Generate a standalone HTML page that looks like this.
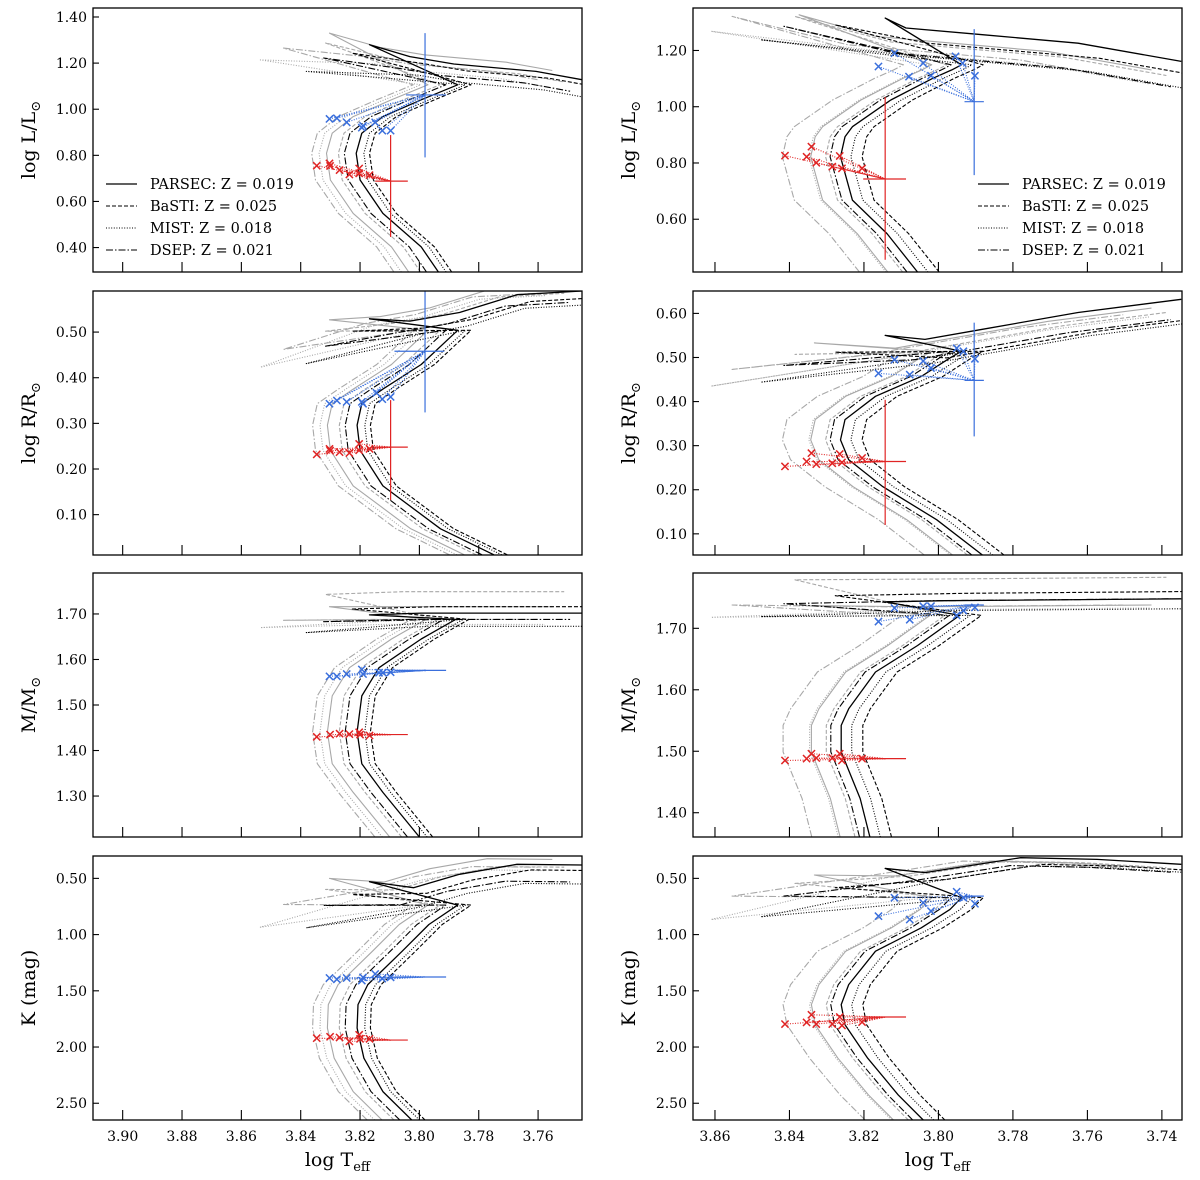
<!DOCTYPE html>
<html><head><meta charset="utf-8">
<style>
html,body{margin:0;padding:0;background:#fff;}
svg{display:block;font-family:"DejaVu Serif","Liberation Serif",serif;}
</style></head>
<body>
<svg id="fig" width="1200" height="1180" viewBox="0 0 1200 1180" xmlns="http://www.w3.org/2000/svg"></svg>
<script>
// ---------- data ----------
const modelNames = ["PARSEC: Z = 0.019","BaSTI: Z = 0.025","MIST: Z = 0.018","DSEP: Z = 0.021"];
const TICKS_X_LEFT = [3.90,3.88,3.86,3.84,3.82,3.80,3.78,3.76];
const TICKS_X_RIGHT = [3.86,3.84,3.82,3.80,3.78,3.76,3.74];
const TICKS_L_LEFT = [0.40,0.60,0.80,1.00,1.20,1.40];
const TICKS_L_RIGHT = [0.60,0.80,1.00,1.20];
const TICKS_R_LEFT = [0.10,0.20,0.30,0.40,0.50];
const TICKS_R_RIGHT = [0.10,0.20,0.30,0.40,0.50,0.60];
const TICKS_M_LEFT = [1.30,1.40,1.50,1.60,1.70];
const TICKS_M_RIGHT = [1.40,1.50,1.60,1.70];
const TICKS_K = [0.50,1.00,1.50,2.00,2.50];

// model order: black P,B,M,D ; gray P,B,M,D
// ---- panel 1 left (log L) ----
const p1L_base = [[3.7936,0.294],[3.7994,0.403],[3.8123,0.548],[3.8200,0.693],[3.8213,0.809],[3.8194,0.896],[3.8123,0.968],[3.7994,1.041],[3.7871,1.106],[3.8168,1.280],[3.8032,1.228],[3.7884,1.196],[3.7607,1.164],[3.7452,1.128]];
const p1L_dT = [0,-0.0045,-0.0026,0.004,0.010,0.006,0.0125,0.015];
const p1L_tipT = [3.8168,3.8226,3.8381,3.8323,3.8303,3.8316,3.8536,3.8458];
const p1L_tipY = [1.280,1.243,1.164,1.222,1.330,1.287,1.214,1.265];
const p1L_sgY = [0,-0.03,-0.08,-0.05,0.04,-0.01,-0.03,0];
const p1L_blueObs = [3.7981,1.062]; const p1L_blueXErr=[3.8045,3.7910]; const p1L_blueYErr=[1.330,0.791];
const p1L_blueX = [[3.8303,0.958],[3.8278,0.961],[3.8245,0.943],[3.8194,0.920],[3.8190,0.928],[3.8149,0.943],[3.8125,0.907],[3.8097,0.907]];
const p1L_redObs = [3.8097,0.688]; const p1L_redXErr=[3.8149,3.8039]; const p1L_redYErr=[0.888,0.446];
const p1L_redX = [[3.8346,0.755],[3.8303,0.765],[3.8301,0.754],[3.8269,0.736],[3.8236,0.717],[3.8203,0.743],[3.8203,0.722],[3.8168,0.714]];
// ---- panel 1 right (log L) ----
const p1R_base = [[3.8056,0.412],[3.8138,0.549],[3.8231,0.668],[3.8263,0.822],[3.8251,0.893],[3.8231,0.929],[3.8128,1.024],[3.8015,1.101],[3.7964,1.131],[3.7938,1.149],[3.8143,1.315],[3.8087,1.280],[3.7882,1.256],[3.7625,1.226],[3.7348,1.161]];
const p1R_dT = [0,-0.0058,-0.0028,0.0028,0.008,0.004,0.0085,0.0156];
const p1R_tipT = [3.8143,3.8277,3.8477,3.8415,3.8374,3.8385,3.8610,3.8554];
const p1R_tipY = [1.315,1.291,1.238,1.286,1.327,1.321,1.268,1.321];
const p1R_sgY = [0,-0.054,-0.1,-0.09,-0.03,-0.05,-0.08,-0.06];
const p1R_blueObs = [3.7904,1.018]; const p1R_blueXErr=[3.7930,3.7878]; const p1R_blueYErr=[1.276,0.757];
const p1R_blueX = [[3.8118,1.190],[3.8161,1.143],[3.8041,1.155],[3.8079,1.107],[3.8020,1.110],[3.7954,1.179],[3.7935,1.155],[3.7902,1.110]];
const p1R_redObs = [3.8143,0.743]; const p1R_redXErr=[3.8202,3.8087]; const p1R_redYErr=[1.034,0.456];
const p1R_redX = [[3.8412,0.826],[3.8354,0.822],[3.8341,0.858],[3.8328,0.801],[3.8285,0.787],[3.8265,0.825],[3.8259,0.781],[3.8205,0.781]];
// ---- panel 2 left (log R) ----
const p2L_base = [[3.7749,0.012],[3.7929,0.069],[3.8123,0.163],[3.8200,0.241],[3.8210,0.296],[3.8194,0.343],[3.8123,0.375],[3.7994,0.429],[3.7871,0.504],[3.8168,0.529],[3.8032,0.524],[3.7865,0.543],[3.7671,0.582],[3.7452,0.590]];
const p2L_dT = [0,-0.0045,-0.0026,0.004,0.010,0.006,0.0125,0.015];
const p2L_tipT = [3.8168,3.8226,3.8381,3.8316,3.8303,3.8316,3.8536,3.8458];
const p2L_tipY = [0.529,0.502,0.431,0.469,0.527,0.502,0.423,0.462];
const p2L_sgY = [0,-0.015,-0.03,-0.025,0.01,-0.005,-0.01,-0.005];
const p2L_blueObs = [3.7981,0.458]; const p2L_blueXErr=[3.8084,3.7916]; const p2L_blueYErr=[0.590,0.324];
const p2L_blueX = [[3.8303,0.343],[3.8278,0.350],[3.8245,0.347],[3.8194,0.347],[3.8190,0.343],[3.8145,0.367],[3.8125,0.353],[3.8097,0.358]];
const p2L_redObs = [3.8097,0.248]; const p2L_redXErr=[3.8155,3.8039]; const p2L_redYErr=[0.351,0.132];
const p2L_redX = [[3.8346,0.232],[3.8303,0.244],[3.8301,0.240],[3.8269,0.237],[3.8236,0.235],[3.8203,0.255],[3.8203,0.241],[3.8168,0.244]];
// ---- panel 2 right (log R) ----
const p2R_base = [[3.7882,0.052],[3.8005,0.132],[3.8149,0.207],[3.8241,0.268],[3.8263,0.313],[3.8251,0.359],[3.8169,0.412],[3.8046,0.457],[3.7969,0.499],[3.7938,0.514],[3.8143,0.550],[3.8036,0.541],[3.7882,0.564],[3.7625,0.602],[3.7348,0.632]];
const p2R_dT = [0,-0.0058,-0.0028,0.0028,0.008,0.004,0.0085,0.0156];
const p2R_tipT = [3.8143,3.8277,3.8477,3.8415,3.8333,3.8385,3.8610,3.8554];
const p2R_tipY = [0.550,0.512,0.444,0.482,0.533,0.507,0.435,0.473];
const p2R_sgY = [0,-0.042,-0.053,-0.046,-0.02,-0.03,-0.04,-0.035];
const p2R_blueObs = [3.7904,0.448]; const p2R_blueXErr=[3.7930,3.7878]; const p2R_blueYErr=[0.579,0.321];
const p2R_blueX = [[3.7951,0.521],[3.7933,0.514],[3.7902,0.497],[3.8118,0.495],[3.8041,0.492],[3.8020,0.476],[3.8161,0.464],[3.8077,0.461]];
const p2R_redObs = [3.8143,0.264]; const p2R_redXErr=[3.8202,3.8087]; const p2R_redYErr=[0.404,0.120];
const p2R_redX = [[3.8412,0.253],[3.8354,0.264],[3.8341,0.283],[3.8328,0.258],[3.8285,0.260],[3.8265,0.281],[3.8259,0.262],[3.8205,0.272]];
// ---- panel 3 left (mass) ----
const p3L_base = [[3.8000,1.210],[3.8123,1.308],[3.8194,1.371],[3.8210,1.441],[3.8194,1.520],[3.8136,1.582],[3.7994,1.645],[3.7878,1.688],[3.8168,1.698],[3.7994,1.702],[3.7452,1.702]];
const p3L_dT = [0,-0.0045,-0.0026,0.004,0.010,0.006,0.0125,0.015];
const p3L_tipT = [3.8168,3.8226,3.8381,3.8323,3.8303,3.8316,3.8536,3.8458];
const p3L_tipY = [1.698,1.711,1.659,1.683,1.716,1.743,1.670,1.686];
const p3L_sgY = [0,0.014,-0.029,-0.014,0.014,0.047,-0.025,-0.014];
const p3L_blueObs = [3.7981,1.576]; const p3L_blueXErr=[3.8084,3.7910]; const p3L_blueYErr=[1.578,1.574];
const p3L_blueX = [[3.8303,1.563],[3.8278,1.563],[3.8245,1.568],[3.8194,1.578],[3.8190,1.568],[3.8136,1.571],[3.8123,1.571],[3.8097,1.572]];
const p3L_redObs = [3.8097,1.435]; const p3L_redXErr=[3.8155,3.8039]; const p3L_redYErr=[1.436,1.434];
const p3L_redX = [[3.8346,1.430],[3.8301,1.435],[3.8269,1.437],[3.8236,1.436],[3.8203,1.440],[3.8200,1.435],[3.8168,1.433]];
// ---- panel 3 right (mass) ----
const p3R_base = [[3.8184,1.3605],[3.8210,1.423],[3.8261,1.499],[3.8261,1.542],[3.8241,1.569],[3.8169,1.629],[3.8056,1.672],[3.7943,1.721],[3.8143,1.743],[3.7984,1.745],[3.7348,1.748]];
const p3R_dT = [0,-0.0058,-0.0028,0.0028,0.008,0.004,0.0085,0.0156];
const p3R_tipT = [3.8143,3.8277,3.8477,3.8415,3.8333,3.8385,3.8610,3.8554];
const p3R_tipY = [1.743,1.753,1.719,1.740,1.737,1.779,1.718,1.738];
const p3R_sgY = [0,0.012,-0.016,0,-0.01,0.035,-0.015,-0.01];
const p3R_blueObs = [3.7904,1.738]; const p3R_blueXErr=[3.7930,3.7878]; const p3R_blueYErr=[1.739,1.737];
const p3R_blueX = [[3.8118,1.733],[3.8041,1.736],[3.8020,1.736],[3.8161,1.711],[3.8077,1.714],[3.7951,1.721],[3.7933,1.729],[3.7902,1.734]];
const p3R_redObs = [3.8143,1.488]; const p3R_redXErr=[3.8202,3.8087]; const p3R_redYErr=[1.489,1.487];
const p3R_redX = [[3.8412,1.485],[3.8354,1.488],[3.8341,1.496],[3.8328,1.489],[3.8285,1.489],[3.8265,1.496],[3.8259,1.485],[3.8205,1.488]];
// ---- panel 4 left (K mag) ----
const p4L_base = [[3.8026,2.649],[3.8123,2.396],[3.8187,2.099],[3.8210,1.831],[3.8207,1.623],[3.8174,1.445],[3.8058,1.148],[3.7968,0.910],[3.7871,0.738],[3.8168,0.530],[3.8020,0.583],[3.7865,0.464],[3.7671,0.375],[3.7452,0.381]];
const p4L_dT = [0,-0.0045,-0.0026,0.004,0.010,0.006,0.0125,0.015];
const p4L_tipT = [3.8168,3.8226,3.8381,3.8323,3.8303,3.8316,3.8536,3.8458];
const p4L_tipY = [0.530,0.643,0.940,0.741,0.500,0.598,0.934,0.732];
const p4L_sgY = [0,0.05,0.17,0.15,-0.05,0.02,0.05,0.02];
const p4L_blueObs = [3.7981,1.377]; const p4L_blueXErr=[3.8084,3.7910]; const p4L_blueYErr=[1.380,1.374];
const p4L_blueX = [[3.8303,1.386],[3.8278,1.398],[3.8245,1.386],[3.8194,1.409],[3.8190,1.380],[3.8149,1.350],[3.8125,1.392],[3.8097,1.380]];
const p4L_redObs = [3.8097,1.938]; const p4L_redXErr=[3.8155,3.8039]; const p4L_redYErr=[1.941,1.935];
const p4L_redX = [[3.8346,1.921],[3.8301,1.909],[3.8269,1.915],[3.8236,1.950],[3.8203,1.891],[3.8200,1.927],[3.8168,1.927]];
// ---- panel 4 right (K mag) ----
const p4R_base = [[3.8041,2.649],[3.8108,2.426],[3.8190,2.099],[3.8251,1.802],[3.8261,1.623],[3.8241,1.445],[3.8169,1.148],[3.8046,0.940],[3.7969,0.776],[3.7938,0.672],[3.8143,0.411],[3.8036,0.449],[3.7779,0.316],[3.7574,0.331],[3.7348,0.375]];
const p4R_dT = [0,-0.0058,-0.0028,0.0028,0.008,0.004,0.0085,0.0156];
const p4R_tipT = [3.8143,3.8277,3.8477,3.8415,3.8333,3.8385,3.8610,3.8554];
const p4R_tipY = [0.411,0.583,0.842,0.658,0.470,0.545,0.866,0.658];
const p4R_sgY = [0,0.06,0.075,0.07,0.03,0.03,0.03,0.03];
const p4R_blueObs = [3.7904,0.658]; const p4R_blueXErr=[3.7930,3.7878]; const p4R_blueYErr=[0.662,0.654];
const p4R_blueX = [[3.7951,0.619],[3.7933,0.672],[3.7902,0.726],[3.8118,0.672],[3.8041,0.717],[3.8020,0.791],[3.8161,0.836],[3.8077,0.866]];
const p4R_redObs = [3.8143,1.733]; const p4R_redXErr=[3.8202,3.8087]; const p4R_redYErr=[1.737,1.729];
const p4R_redX = [[3.8412,1.796],[3.8354,1.781],[3.8341,1.713],[3.8328,1.796],[3.8285,1.796],[3.8265,1.733],[3.8259,1.808],[3.8205,1.778]];

// ---------- layout ----------
const NS = "http://www.w3.org/2000/svg";
const svg = document.getElementById('fig');
const COLS = [{x:93, xd:[3.910,3.7452], xt:TICKS_X_LEFT},{x:693, xd:[3.8659,3.7346], xt:TICKS_X_RIGHT}];
const ROWS = [8, 291, 573, 856];
const PW = 489, PH = 264;
const STYLES = [
 {c:"#000", w:1.3, d:""},{c:"#000", w:1.1, d:"4,2"},{c:"#000", w:1.1, d:"1,1.6"},{c:"#000", w:1.1, d:"7,2,1.5,2"},
 {c:"#a8a8a8", w:1.1, d:""},{c:"#a8a8a8", w:1.1, d:"4,2"},{c:"#a8a8a8", w:1.1, d:"1,1.6"},{c:"#a8a8a8", w:1.1, d:"7,2,1.5,2"}
];
const BLUE = "#3a6fdc", RED = "#e02424";
const TIPIDX = {L:[9,10], R:[9,10], M:[8,8], K:[9,10]};

const PANELS = [
 {id:"lum-left", col:0,row:0, yd:[1.439,0.294], yt:TICKS_L_LEFT, lab:"L", base:p1L_base,dT:p1L_dT,tipT:p1L_tipT,tipY:p1L_tipY,sgY:p1L_sgY,bo:p1L_blueObs,bxe:p1L_blueXErr,bye:p1L_blueYErr,bx:p1L_blueX,ro:p1L_redObs,rxe:p1L_redXErr,rye:p1L_redYErr,rx:p1L_redX, legend:true},
 {id:"lum-right", col:1,row:0, yd:[1.351,0.4124], yt:TICKS_L_RIGHT, lab:"L", base:p1R_base,dT:p1R_dT,tipT:p1R_tipT,tipY:p1R_tipY,sgY:p1R_sgY,bo:p1R_blueObs,bxe:p1R_blueXErr,bye:p1R_blueYErr,bx:p1R_blueX,ro:p1R_redObs,rxe:p1R_redXErr,rye:p1R_redYErr,rx:p1R_redX, legend:true},
 {id:"radius-left", col:0,row:1, yd:[0.590,0.0116], yt:TICKS_R_LEFT, lab:"R", base:p2L_base,dT:p2L_dT,tipT:p2L_tipT,tipY:p2L_tipY,sgY:p2L_sgY,bo:p2L_blueObs,bxe:p2L_blueXErr,bye:p2L_blueYErr,bx:p2L_blueX,ro:p2L_redObs,rxe:p2L_redXErr,rye:p2L_redYErr,rx:p2L_redX},
 {id:"radius-right", col:1,row:1, yd:[0.6508,0.052], yt:TICKS_R_RIGHT, lab:"R", base:p2R_base,dT:p2R_dT,tipT:p2R_tipT,tipY:p2R_tipY,sgY:p2R_sgY,bo:p2R_blueObs,bxe:p2R_blueXErr,bye:p2R_blueYErr,bx:p2R_blueX,ro:p2R_redObs,rxe:p2R_redXErr,rye:p2R_redYErr,rx:p2R_redX},
 {id:"mass-left", col:0,row:2, yd:[1.790,1.210], yt:TICKS_M_LEFT, lab:"M", base:p3L_base,dT:p3L_dT,tipT:p3L_tipT,tipY:p3L_tipY,sgY:p3L_sgY,bo:p3L_blueObs,bxe:p3L_blueXErr,bye:p3L_blueYErr,bx:p3L_blueX,ro:p3L_redObs,rxe:p3L_redXErr,rye:p3L_redYErr,rx:p3L_redX},
 {id:"mass-right", col:1,row:2, yd:[1.790,1.3605], yt:TICKS_M_RIGHT, lab:"M", base:p3R_base,dT:p3R_dT,tipT:p3R_tipT,tipY:p3R_tipY,sgY:p3R_sgY,bo:p3R_blueObs,bxe:p3R_blueXErr,bye:p3R_blueYErr,bx:p3R_blueX,ro:p3R_redObs,rxe:p3R_redXErr,rye:p3R_redYErr,rx:p3R_redX},
 {id:"kmag-left", col:0,row:3, yd:[0.301,2.649], yt:TICKS_K, lab:"K", base:p4L_base,dT:p4L_dT,tipT:p4L_tipT,tipY:p4L_tipY,sgY:p4L_sgY,bo:p4L_blueObs,bxe:p4L_blueXErr,bye:p4L_blueYErr,bx:p4L_blueX,ro:p4L_redObs,rxe:p4L_redXErr,rye:p4L_redYErr,rx:p4L_redX},
 {id:"kmag-right", col:1,row:3, yd:[0.301,2.649], yt:TICKS_K, lab:"K", base:p4R_base,dT:p4R_dT,tipT:p4R_tipT,tipY:p4R_tipY,sgY:p4R_sgY,bo:p4R_blueObs,bxe:p4R_blueXErr,bye:p4R_blueYErr,bx:p4R_blueX,ro:p4R_redObs,rxe:p4R_redXErr,rye:p4R_redYErr,rx:p4R_redX}
];
const MODEL_KEYS = ["parsec","basti","mist","dsep"];

function el(tag, attrs, parent){
  const e = document.createElementNS(NS, tag);
  for (const k in attrs) e.setAttribute(k, attrs[k]);
  (parent||svg).appendChild(e);
  return e;
}

const defs = el('defs', {});
PANELS.forEach(function(P, pi){
  const X0 = COLS[P.col].x, Y0 = ROWS[P.row];
  const xd = COLS[P.col].xd;
  const sx = function(t){ return X0 + (t - xd[0]) / (xd[1] - xd[0]) * PW; };
  const sy = function(v){ return Y0 + (v - P.yd[0]) / (P.yd[1] - P.yd[0]) * PH; };
  const g = el('g', {});
  
  
  const cp = el('clipPath', {id:'clip'+pi}, defs);
  el('rect', {x:X0, y:Y0, width:PW, height:PH}, cp);
  const plot = el('g', {'clip-path':'url(#clip'+pi+')'}, g);
  
  
  const tip = P.base.length === 15 ? 10 : (P.lab === 'M' ? 8 : 9);
  // isochrones: gray first, then black
  [4,5,6,7,0,1,2,3].forEach(function(m){
    const pts = P.base.map(function(p, j){
      if (j < tip) return [p[0] + P.dT[m], p[1]];
      if (j === tip) return [P.tipT[m], P.tipY[m]];
      return [p[0] + P.dT[m], p[1] + P.sgY[m]];
    });
    const d = pts.map(function(p,j){ return (j?'L':'M') + sx(p[0]).toFixed(1) + ',' + sy(p[1]).toFixed(1); }).join(' ');
    const st = STYLES[m];
    const path = el('path', {d:d, fill:'none', stroke:st.c, 'stroke-width':st.w, 'stroke-dasharray':st.d, 'stroke-linejoin':'round'}, plot);
    
    
  });
  // stars
  [['blue', BLUE, P.bo, P.bxe, P.bye, P.bx], ['red', RED, P.ro, P.rxe, P.rye, P.rx]].forEach(function(S){
    const nm = S[0], col = S[1], obs = S[2], xe = S[3], ye = S[4], xs = S[5];
    const ox = sx(obs[0]), oy = sy(obs[1]);
    xs.forEach(function(p){
      const ln = el('line', {x1:sx(p[0]), y1:sy(p[1]), x2:ox, y2:oy, stroke:col, 'stroke-width':1.1, 'stroke-dasharray':'1,1.5'}, plot);
      
      
    });
    const eh = el('line', {x1:sx(xe[0]), y1:oy, x2:sx(xe[1]), y2:oy, stroke:col, 'stroke-width':1.2}, plot);
    
    
    const ev = el('line', {x1:ox, y1:sy(ye[0]), x2:ox, y2:sy(ye[1]), stroke:col, 'stroke-width':1.2}, plot);
    
    
    xs.forEach(function(p){
      const cx = sx(p[0]), cy = sy(p[1]), r = 3.6;
      const mk = el('path', {d:'M'+(cx-r)+','+(cy-r)+'L'+(cx+r)+','+(cy+r)+'M'+(cx-r)+','+(cy+r)+'L'+(cx+r)+','+(cy-r), stroke:col, 'stroke-width':1.5, fill:'none'}, plot);
      
      
    });
  });
  // frame
  const fr = el('rect', {x:X0, y:Y0, width:PW, height:PH, fill:'none', stroke:'#000', 'stroke-width':1.3}, g);
  
  
  // x ticks
  COLS[P.col].xt.forEach(function(t){
    const x = sx(t);
    const tk = el('line', {x1:x, y1:Y0+PH, x2:x, y2:Y0+PH-10, stroke:'#000', 'stroke-width':1.1}, g);
    
    
    if (P.row === 3) {
      const tl = el('text', {x:x, y:Y0+PH+21, 'font-size':14, 'text-anchor':'middle', fill:'#000'}, g);
      tl.textContent = t.toFixed(2);
      
      
    }
  });
  // y ticks
  P.yt.forEach(function(v){
    const y = sy(v);
    const tk = el('line', {x1:X0, y1:y, x2:X0+6, y2:y, stroke:'#000', 'stroke-width':1.1}, g);
    
    
    const tl = el('text', {x:X0-6, y:y+5, 'font-size':14, 'text-anchor':'end', fill:'#000'}, g);
    tl.textContent = v.toFixed(2);
    
    
  });
  // y label
  const lx = X0 - 58, ly = Y0 + PH/2;
  const yl = el('text', {x:lx, y:ly, 'font-size':19, 'text-anchor':'middle', transform:'rotate(-90 '+lx+' '+ly+')', fill:'#000'}, g);
  
  
  if (P.lab === 'L') yl.innerHTML = 'log L/L<tspan font-size="13" dy="5">⊙</tspan>';
  else if (P.lab === 'R') yl.innerHTML = 'log R/R<tspan font-size="13" dy="5">⊙</tspan>';
  else if (P.lab === 'M') yl.innerHTML = 'M/M<tspan font-size="13" dy="5">⊙</tspan>';
  else yl.textContent = 'K (mag)';
  // x label
  if (P.row === 3) {
    const xl = el('text', {x:X0+PW/2, y:1166, 'font-size':19, 'text-anchor':'middle', fill:'#000'}, g);
    xl.innerHTML = 'log T<tspan font-size="13" dy="5">eff</tspan>';
    
    
  }
  // legend
  if (P.legend) {
    const lg = el('g', {}, g);
    
    
    const lx0 = P.col === 0 ? X0 + 13 : X0 + 285;
    [184, 206, 228, 250].forEach(function(yy, i){
      const st = STYLES[i];
      const ll = el('line', {x1:lx0, y1:yy, x2:lx0+31, y2:yy, stroke:'#000', 'stroke-width':st.w, 'stroke-dasharray':st.d}, lg);
      
      
      const lt = el('text', {x:lx0+44, y:yy+5, 'font-size':14.5, fill:'#000'}, lg);
      lt.textContent = modelNames[i];
      
      
    });
  }
});
</script>
</body></html>
